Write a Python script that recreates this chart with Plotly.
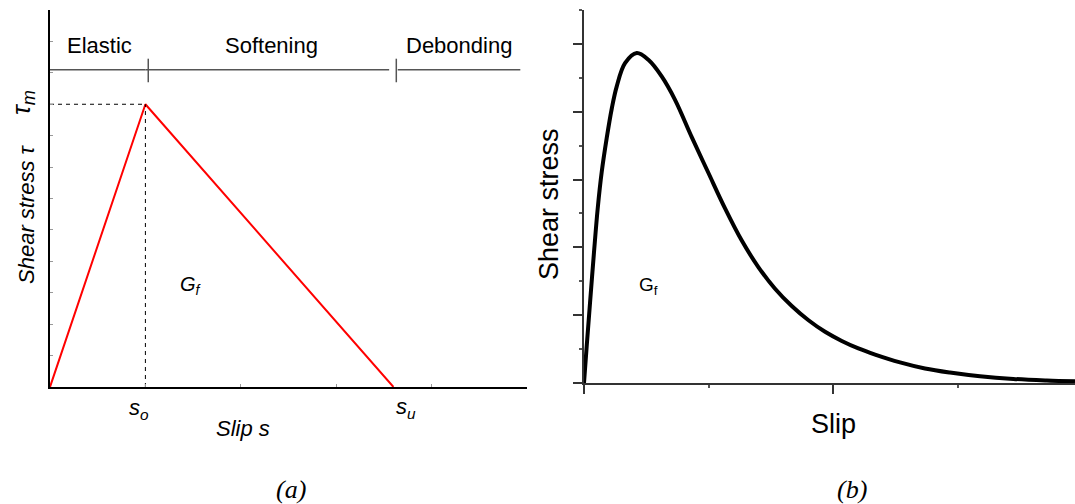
import plotly.graph_objects as go

W, H = 1075, 504

# Panel (a): bilinear bond-slip law
s_o, tau_m, s_u = 1.0, 9.0, 3.6
slip_a = [0.0, s_o, s_u]
stress_a = [0.0, tau_m, 0.0]
phase_names = ["Elastic", "Softening", "Debonding"]
phase_limits = [0.0, s_o, s_u, 4.93]

# Panel (b): nonlinear bond-slip curve
slip_b = [0.0, 0.022, 0.048, 0.080, 0.110, 0.142, 0.182, 0.222, 0.262, 0.329, 0.423,
          0.516, 0.623, 0.730, 0.864, 0.997, 1.131, 1.265, 1.398, 1.532, 1.666,
          1.800, 1.933, 2.067, 2.200, 2.334, 2.534, 2.734, 2.934, 3.175, 3.443,
          3.711, 3.937]
stress_b = [0.0, 1.10, 2.35, 3.85, 5.15, 6.22, 7.22, 8.08, 8.74, 9.43, 9.73,
            9.53, 9.04, 8.35, 7.25, 6.20, 5.15, 4.20, 3.42, 2.78, 2.27,
            1.85, 1.51, 1.24, 1.02, 0.84, 0.61, 0.43, 0.31, 0.20, 0.12,
            0.075, 0.05]


def fx(px):
    return px / W


def fy(py):
    return 1 - py / H


fig = go.Figure()

# (a) red bond-slip law
fig.add_trace(go.Scatter(x=slip_a, y=stress_a, mode="lines",
                         line=dict(color="#ff0000", width=2),
                         xaxis="x", yaxis="y", showlegend=False))
# dashed guides to the peak
fig.add_trace(go.Scatter(x=[0, s_o], y=[tau_m, tau_m], mode="lines",
                         line=dict(color="black", width=1, dash="4px,4px"),
                         xaxis="x", yaxis="y", showlegend=False))
fig.add_trace(go.Scatter(x=[s_o, s_o], y=[0, tau_m], mode="lines",
                         line=dict(color="black", width=1, dash="4px,4px"),
                         xaxis="x", yaxis="y", showlegend=False))

# (b) black nonlinear curve
fig.add_trace(go.Scatter(x=slip_b, y=stress_b, mode="lines",
                         line=dict(color="black", width=4, shape="spline", smoothing=1.0),
                         xaxis="x2", yaxis="y2", showlegend=False))

# phase bar above panel (a)
bar_y = 10.1
gap = 0.045
shapes = []
for i in range(3):
    x0 = phase_limits[i] + (gap if i == 2 else 0)
    x1 = phase_limits[i + 1] - (gap if i == 1 else 0)
    shapes.append(dict(type="line", xref="x", yref="y", x0=x0, x1=x1,
                       y0=bar_y, y1=bar_y, line=dict(color="#555555", width=1.5)))
for b in phase_limits[1:3]:
    shapes.append(dict(type="line", xref="x", yref="y", x0=b + 0.03, x1=b + 0.03,
                       y0=bar_y - 0.4, y1=bar_y + 0.35,
                       line=dict(color="#555555", width=1.5)))

SANS = "Liberation Sans, Arial, sans-serif"
SERIF = "Liberation Serif, Times New Roman, serif"


def note(x, y, text, size, family=SANS, angle=0, xref="paper", yref="paper"):
    return dict(x=x, y=y, xref=xref, yref=yref, text=text, showarrow=False,
                xanchor="center", yanchor="middle", textangle=angle,
                font=dict(family=family, size=size, color="black"))


annotations = []
for i, name in enumerate(phase_names):
    annotations.append(note((phase_limits[i] + phase_limits[i + 1]) / 2 + 0.02, 10.88,
                            name, 22, xref="x", yref="y"))

annotations += [
    note(fx(26), fy(214), "<i>Shear stress τ</i>", 22, angle=-90),
    note(fx(23), fy(103), "<i>τ<sub>m</sub></i>", 26, angle=-90),
    note(fx(139), fy(409), "<i>s<sub>o</sub></i>", 22),
    note(fx(406), fy(408), "<i>s<sub>u</sub></i>", 22),
    note(fx(243), fy(428), "<i>Slip s</i>", 22),
    note(fx(191), fy(285), "<i>G<sub>f</sub></i>", 20),
    note(fx(291), fy(489), "<i>(a)</i>", 26, family=SERIF),
    # panel (b)
    note(fx(549), fy(204), "Shear stress", 27, angle=-90),
    note(fx(833), fy(424), "Slip", 27),
    note(fx(648), fy(286), "G<sub>f</sub>", 19),
    note(fx(852), fy(489), "<i>(b)</i>", 26, family=SERIF),
]

left_axis = dict(showgrid=False, zeroline=False, showticklabels=False,
                 showline=True, linecolor="black", linewidth=2,
                 ticks="inside", ticklen=3, tickwidth=1, tickcolor="#999999", dtick=1)
right_axis = dict(showgrid=False, zeroline=False, showticklabels=False,
                  showline=True, linecolor="#333333", linewidth=2,
                  ticks="outside", ticklen=9, tickwidth=2, tickcolor="#333333", dtick=2,
                  minor=dict(dtick=1, ticks="outside", ticklen=3, tickwidth=2, tickcolor="#555555"))

fig.update_layout(
    width=W, height=H, margin=dict(l=0, r=0, t=0, b=0),
    paper_bgcolor="white", plot_bgcolor="white",
    xaxis=dict(left_axis, domain=[fx(50), fx(527)], range=[0, 5], anchor="y"),
    yaxis=dict(left_axis, domain=[fy(387), fy(10)], range=[0, 12], anchor="x"),
    xaxis2=dict(right_axis, domain=[fx(584), 1.0], range=[0, 3.937], anchor="y2"),
    yaxis2=dict(right_axis, domain=[fy(383), fy(10)], range=[0, 11], anchor="x2"),
    shapes=shapes, annotations=annotations,
)

fig.write_html("out.html")
